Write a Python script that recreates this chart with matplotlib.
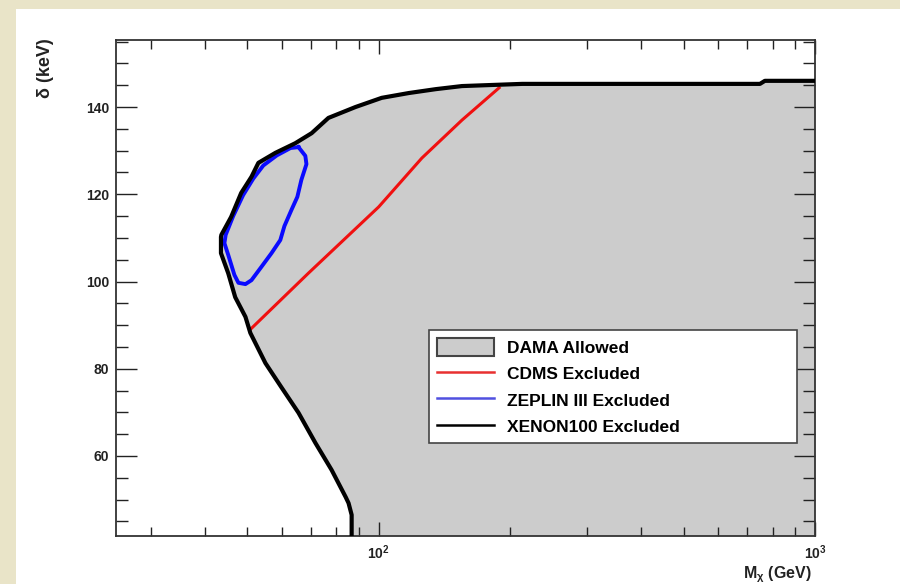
import matplotlib
matplotlib.use("Agg")
import matplotlib.pyplot as plt
from matplotlib.patches import Rectangle, Patch
from matplotlib.lines import Line2D
from matplotlib.ticker import LogLocator, MultipleLocator, NullFormatter

plt.rcParams['font.family'] = ['Liberation Sans', 'DejaVu Sans']
plt.rcParams['font.weight'] = 'bold'
plt.rcParams['mathtext.fontset'] = 'custom'
plt.rcParams['mathtext.rm'] = 'Liberation Sans:bold'
plt.rcParams['mathtext.it'] = 'Liberation Sans:bold'
plt.rcParams['mathtext.bf'] = 'Liberation Sans:bold'

# XENON100 exclusion line (= edge of the DAMA allowed region), M in GeV, delta in keV
xenon_m = [86.7, 86.7, 85.3, 84.0, 78.0, 71.6, 65.5, 59.8, 55.0, 50.8, 49.5, 46.9,
           45.2, 43.5, 43.5, 43.6, 45.9, 48.4, 51.1, 53.0, 58.0, 64.4, 70.2, 76.7,
           88.5, 101.6, 117.2, 135.3, 155.2, 213.2, 747.9, 767.6, 1000.0]
xenon_delta = [41.7, 46.5, 49.2, 50.6, 56.8, 63.0, 69.9, 75.8, 81.3, 88.2, 91.9, 96.4,
               101.9, 106.5, 110.2, 110.7, 114.8, 120.3, 124.0, 127.2, 129.5, 131.7, 134.0, 137.5,
               140.0, 142.1, 143.2, 144.1, 144.8, 145.3, 145.3, 146.0, 146.0]

# DAMA region closes along the right and bottom edges of the plot
dama_m = xenon_m + [1000.0, 1000.0]
dama_delta = xenon_delta + [41.7, 41.7]

# CDMS exclusion line
cdms_m = [50.9, 69.0, 100.0, 125.6, 155.2, 188.8]
cdms_delta = [89.1, 101.9, 117.1, 128.3, 137.0, 144.4]

# ZEPLIN III exclusion contour
zeplin_m = [65.5, 67.9, 68.3, 66.5, 65.1, 63.1, 60.8, 59.5, 56.8, 53.8, 51.1, 49.5,
            47.7, 46.7, 45.2, 44.3, 44.6, 46.4, 48.9, 51.6, 54.4, 58.4, 62.8, 65.5]
zeplin_delta = [130.8, 128.8, 126.9, 123.3, 119.4, 116.4, 112.7, 109.5, 106.5, 103.3, 100.3, 99.4,
                99.7, 101.5, 106.1, 108.8, 110.7, 115.0, 119.8, 123.6, 126.6, 128.9, 130.6, 130.8]

labels = ["DAMA Allowed", "CDMS Excluded", "ZEPLIN III Excluded", "XENON100 Excluded"]

fig = plt.figure(figsize=(9, 5.84), dpi=100)
fig.patch.set_facecolor('#e9e4c8')
# white slide panel
fig.patches.append(Rectangle((16 / 900, 0), 1, 1 - 9 / 584, transform=fig.transFigure,
                             facecolor='white', edgecolor='none', zorder=-5))

ax = fig.add_axes([116 / 900, 1 - 536 / 584, 699 / 900, 496 / 584])
ax.set_zorder(2)
ax.set_facecolor('white')
ax.set_xscale('log')
ax.set_xlim(25, 1000)
ax.set_ylim(41.66, 155.36)

ax.fill(dama_m, dama_delta, color='#cccccc', lw=0, zorder=1)
ax.plot(cdms_m, cdms_delta, color='#f01010', lw=2.2, zorder=3)
ax.plot(zeplin_m, zeplin_delta, color='#0a0aff', lw=2.8, zorder=3)
ax.plot(xenon_m, xenon_delta, color='black', lw=3.0, zorder=4, solid_joinstyle='round')

ax.xaxis.set_major_locator(LogLocator(base=10, numticks=10))
ax.xaxis.set_minor_locator(LogLocator(base=10, subs=range(2, 10), numticks=20))
ax.xaxis.set_minor_formatter(NullFormatter())
ax.yaxis.set_major_locator(MultipleLocator(20))
ax.yaxis.set_minor_locator(MultipleLocator(5))

ax.tick_params(which='both', direction='in', top=True, right=True, colors='#222222',
               labelsize=10, width=1.0)
ax.tick_params(axis='y', which='major', length=15, pad=5)
ax.tick_params(axis='y', which='minor', length=8.5)
ax.tick_params(axis='x', which='major', length=10, pad=5)
ax.tick_params(axis='x', which='minor', length=6.5)
for s in ax.spines.values():
    s.set_color('#333333')
    s.set_linewidth(1.3)

fig.text(812 / 900, 1 - 578 / 584, r'$\mathregular{M_{\chi}}$ (GeV)', ha='right', va='baseline',
         fontsize=11.5, fontweight='bold', color='#222222')
fig.text(46 / 900, 1 - 38 / 584, 'δ (keV)', rotation=90, ha='center', va='top',
         fontsize=13, fontweight='bold', color='#222222')

handles = [Patch(facecolor='#cccccc', edgecolor='#444444', lw=1.5),
           Line2D([], [], color='#e83030', lw=1.8),
           Line2D([], [], color='#5050e0', lw=1.8),
           Line2D([], [], color='black', lw=1.8)]
leg = ax.legend(handles, labels, loc='upper left',
                bbox_to_anchor=(429 / 900, 1 - 330 / 584 - 0.01, 368 / 900, 0.01),
                bbox_transform=fig.transFigure, mode='expand', borderaxespad=0,
                fontsize=12.5, handlelength=3.3, handleheight=1.2, handletextpad=0.75,
                labelspacing=0.5, borderpad=0.45, fancybox=False, framealpha=1,
                edgecolor='#444444')
leg.get_frame().set_linewidth(1.2)
leg.set_zorder(6)

fig.savefig('out.png', dpi=100, facecolor=fig.get_facecolor())
